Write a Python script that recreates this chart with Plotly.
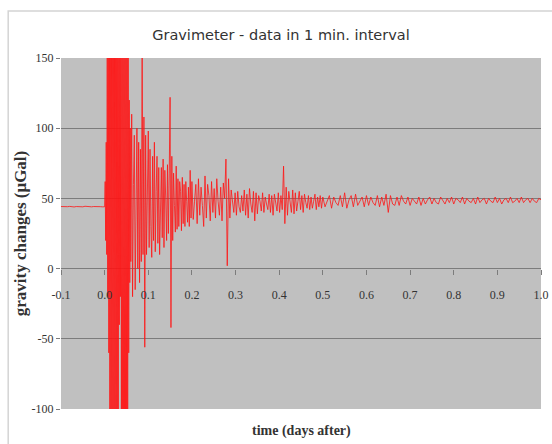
import plotly.graph_objects as go

# ---------------- data ----------------
# Each segment: start time (days), sampling step (days), gravity values (µGal)
pre_start, pre_step = -0.1, 0.005
pre_values = [44.2, 44.0, 43.8, 44.1, 44.3, 44.0, 43.9, 44.2, 44.1, 43.8,
              44.0, 44.4, 44.1, 43.9, 44.0, 44.2, 44.0, 43.8, 44.1, 44.0]

quake_start, quake_step = 0.0, 0.0012
quake_values = [44, 62, 20, 90, 10, 170, -20, 210, -60, 260,
                -150, 300, -220, 280, -260, 320, -200, 290, -240, 260,
                -180, 300, -230, 250, -190, 280, -150, 260, -40, 240,
                -20, 230, -170, 210, -200, 200, -180, 190, -160, 180,
                -150, 170, -130, 160, -110, 150, -60, 120, -10, 100]

early_start, early_step = 0.060, 0.002
early_values = [5, 110, -20, 60, 95, -15, 40, 100, 0, 90,
                -10, 85, 5, 160, 10, 108, -56, 95, 10, 60,
                98, 15, 85, 30, 8, 80, 20, 90, 12, 55,
                80, 18, 72, 10, 40, 72, 22, 78, 15, 70,
                50, 20, 74, 25, 68, 122, -42, 80, 20, 68,
                45, 26, 73, 28, 64, 30, 62, 55, 27, 65,
                32, 60, 30, 62, 48, 33, 58, 30, 70, 36]

mid_start, mid_step = 0.200, 0.003
mid_values = [62, 35, 48, 60, 32, 64, 38, 58, 45, 30,
              66, 36, 60, 52, 34, 62, 40, 57, 36, 64,
              48, 38, 58, 34, 61, 50, 78, 2, 64, 36,
              56, 47, 40, 54, 38, 55, 44, 40, 52, 41,
              56, 38, 53, 36, 57, 46, 40, 55, 34, 54,
              39, 52, 48, 41, 54, 40, 51, 46, 42, 53,
              40, 52, 38, 53, 47, 41, 54, 40, 52, 42,
              73, 32, 58, 38, 55, 46, 40, 56, 39, 54,
              41, 48, 55, 42, 52, 40, 53, 47, 43, 52,
              42, 51, 43, 48, 53, 42, 51, 44, 52, 43]

late_start, late_step = 0.500, 0.005
late_values = [51, 44, 48, 52, 43, 51, 47, 45, 52, 44,
               54, 43, 49, 52, 44, 53, 45, 48, 51, 44,
               52, 45, 51, 47, 45, 52, 44, 51, 45, 53,
               40, 52, 46, 45, 51, 45, 52, 48, 46, 51,
               45, 50, 48, 46, 51, 45, 50, 46, 49, 51,
               46, 50, 47, 46, 51, 48, 46, 50, 47, 51,
               46, 50, 49, 47, 51, 46, 50, 48, 47, 50,
               46, 51, 47, 49, 50, 46, 50, 48, 47, 51,
               47, 50, 46, 49, 50, 47, 51, 47, 48, 50,
               47, 51, 47, 49, 50, 47, 50, 48, 47, 50, 49]

segments = [(pre_start, pre_step, pre_values),
            (quake_start, quake_step, quake_values),
            (early_start, early_step, early_values),
            (mid_start, mid_step, mid_values),
            (late_start, late_step, late_values)]

x_ticks = [-0.1, 0.0, 0.1, 0.2, 0.3, 0.4, 0.5, 0.6, 0.7, 0.8, 0.9, 1.0]
x_tick_labels = ["-0.1", "0.0", "0.1", "0.2", "0.3", "0.4", "0.5", "0.6",
                 "0.7", "0.8", "0.9", "1.0"]
y_ticks = [-100, -50, 0, 50, 100, 150]
y_tick_labels = ["-100", "-50", "0", "50", "100", "150"]
y_range = [-100, 150]
x_range = [-0.1, 1.0]

# ---------------- build series ----------------
times, values = [], []
for start, step, vals in segments:
    for i, v in enumerate(vals):
        times.append(round(start + i * step, 5))
        values.append(v)

fig = go.Figure()
fig.add_trace(go.Scatter(x=times, y=values, mode="lines",
                         line=dict(color="#ff1414", width=0.8),
                         hoverinfo="skip", showlegend=False))

serif = "Liberation Serif, Times New Roman, serif"
grid_col = "#7c7c7c"

fig.update_layout(
    width=552, height=444,
    margin=dict(l=61, r=11, t=58, b=35, autoexpand=False),
    paper_bgcolor="white",
    plot_bgcolor="#c0c0c0",
    title=dict(text="Gravimeter - data in 1 min. interval",
               font=dict(family="DejaVu Sans", size=14.5, color="#333333"),
               x=0.509, xref="container", xanchor="center",
               y=1 - 35 / 444, yref="container", yanchor="middle"),
    showlegend=False,
)

fig.update_yaxes(range=y_range, tickvals=y_ticks, ticktext=y_tick_labels,
                 automargin=False,
                 showgrid=True, gridcolor=grid_col, gridwidth=1,
                 zeroline=True, zerolinecolor=grid_col, zerolinewidth=1,
                 ticks="outside", ticklen=4, tickcolor=grid_col,
                 tickfont=dict(family=serif, size=12, color="#333333"),
                 showline=False,
                 title=dict(text="<b>gravity changes (μGal)</b>",
                            font=dict(family=serif, size=17, color="#333333"),
                            standoff=0))

zero_frac = (0 - y_range[0]) / (y_range[1] - y_range[0])
fig.update_xaxes(range=x_range, tickvals=x_ticks, ticktext=x_tick_labels,
                 automargin=False,
                 anchor="free", position=zero_frac,
                 showgrid=False, zeroline=False, showline=False,
                 ticks="outside", ticklen=5, tickcolor=grid_col,
                 ticklabelstandoff=10,
                 tickfont=dict(family=serif, size=12, color="#333333"))

fig.add_annotation(text="<b>time (days after)</b>", xref="paper", yref="paper",
                   x=0.5, y=-0.063, xanchor="center", yanchor="middle",
                   showarrow=False,
                   font=dict(family=serif, size=14, color="#333333"))

# outer chart-area border (partly cut by the picture edge)
fig.add_shape(type="rect", xref="paper", yref="paper",
              x0=-0.11, y0=-0.2, x1=1.1, y1=1.134,
              line=dict(color="#d4d4d4", width=1.5), layer="below")

fig.write_html("out.html",
               config={"displayModeBar": False},
               post_script="document.body.style.margin='0px';"
                           "document.body.style.overflow='hidden';")
